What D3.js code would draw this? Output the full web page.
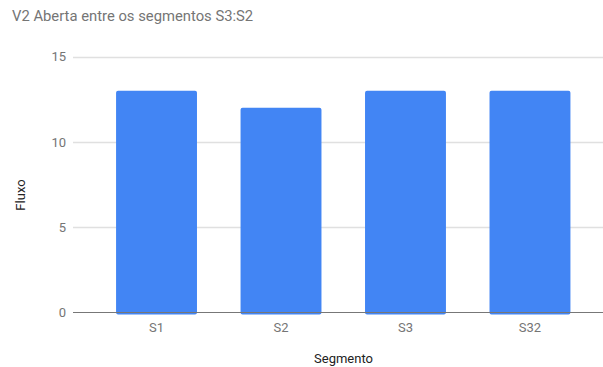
<!DOCTYPE html>
<html><head><meta charset="utf-8">
<script src="https://cdn.jsdelivr.net/npm/d3@7"></script>
<style>html,body{margin:0;padding:0;background:#fff}svg{display:block}text{font-family:Roboto,sans-serif}</style>
</head><body>
<svg id="c" width="603" height="367"></svg>
<script>
const categories = ["S1", "S2", "S3", "S32"];
const values = [13, 12, 13, 13];
const yTicks = [0, 5, 10, 15];
const title = "V2 Aberta entre os segmentos S3:S2";
const xTitle = "Segmento";
const yTitle = "Fluxo";

const svg = d3.select("#c");
const x = d3.scaleBand().domain(categories).range([72.5, 614]).paddingInner(0.35).paddingOuter(0.35);
const y = d3.scaleLinear().domain([0, 15]).range([312.5, 56.7]);

svg.append("text").attr("x", 12).attr("y", 21).attr("fill", "#757575").attr("font-size", 14.8).text(title);

const yAxis = d3.axisLeft(y).tickValues(yTicks).tickSize(0).tickPadding(7);
const ga = svg.append("g").attr("transform", "translate(73,0)").call(yAxis);
ga.select(".domain").remove();
ga.selectAll("text").attr("fill", "#757575").attr("font-size", 13).attr("font-family", "Roboto");

svg.append("g").selectAll("line").data(yTicks.filter(d => d > 0)).join("line")
  .attr("x1", 73).attr("x2", 603).attr("y1", d => Math.round(y(d)) + 0.5).attr("y2", d => Math.round(y(d)) + 0.5)
  .attr("stroke", "#e0e0e0").attr("stroke-width", 1.5);

svg.append("g").selectAll("rect").data(values).join("rect")
  .attr("x", (d, i) => x(categories[i])).attr("width", x.bandwidth())
  .attr("y", d => y(d)).attr("height", d => y(0) - y(d) + 2)
  .attr("rx", 2).attr("fill", "#4285f4");

svg.append("line").attr("x1", 73).attr("x2", 603).attr("y1", 312.5).attr("y2", 312.5)
  .attr("stroke", "#777").attr("stroke-width", 1.2);

const xAxis = d3.axisBottom(x).tickSize(0).tickPadding(10);
const gx = svg.append("g").attr("transform", "translate(0,313)").call(xAxis);
gx.select(".domain").remove();
gx.selectAll("text").attr("fill", "#757575").attr("font-size", 13).attr("font-family", "Roboto");

svg.append("text").attr("x", 343.5).attr("y", 363).attr("text-anchor", "middle").attr("fill", "#222").attr("font-size", 13).text(xTitle);
svg.append("text").attr("transform", "translate(25,195) rotate(-90)").attr("text-anchor", "middle").attr("fill", "#222").attr("font-size", 13).text(yTitle);
</script>
</body></html>
